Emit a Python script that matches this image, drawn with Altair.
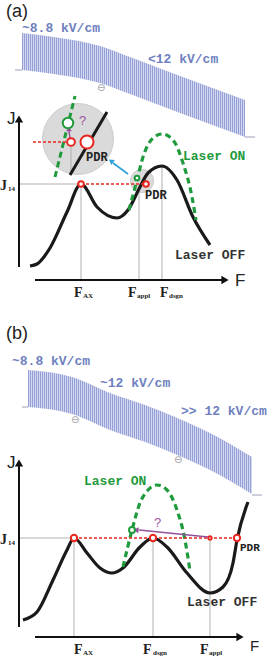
import altair as alt
import pandas as pd

W, H = 267, 657

# ---------------- data (pixel space) ----------------
# field bands
band_a_x   = [22, 60, 100, 130, 180, 245]
band_a_top = [33, 38, 46, 57, 76, 100]
band_a_bot = [70, 75, 83, 94, 113, 137]
band_b_x   = [28, 72, 110, 145, 175, 210, 252]
band_b_top = [370, 377, 393, 405, 417, 433, 457]
band_b_bot = [407, 414, 430, 442, 454, 470, 494]

# J-F curves
off_a_x = [30, 37, 50, 67, 81, 97, 117, 128, 140, 148, 162, 177, 193, 210]
off_a_y = [266, 264, 248, 212, 184, 207, 218, 210, 187, 173, 166, 180, 217, 245]
on_a_x = [129, 137, 143, 153, 162, 173, 183, 192, 196]
on_a_y = [210, 180, 157, 138, 134, 140, 163, 197, 220]
off_b_x = [23, 37, 53, 67, 74, 87, 100, 112, 123, 140, 153, 167, 187, 210, 223, 233, 237, 248]
off_b_y = [620, 612, 580, 550, 538, 553, 568, 573, 568, 547, 538, 547, 573, 593, 587, 563, 540, 502]
on_b_x = [123, 132, 140, 148, 157, 167, 177, 185, 190]
on_b_y = [567, 530, 503, 490, 485, 490, 510, 540, 571]

# inset (magnifier) content
inset_black_x = [70, 107]
inset_black_y = [175, 112]
inset_green_x = [55, 75]
inset_green_y = [177, 96]

# markers
red_x = [81, 146, 71, 87, 74, 153, 237, 210]
red_y = [184, 184, 142, 142, 538, 538, 538, 538]
red_s = [32, 32, 60, 170, 40, 40, 40, 12]
green_x = [137, 68, 132]
green_y = [178, 123, 530]
green_s = [22, 110, 35]

# segments
red_seg = [(81, 184, 146, 184), (33, 142, 66, 142), (74, 538, 237, 538)]
gray_seg = [(19, 184, 81, 184), (81, 184, 81, 280), (139, 186, 139, 280), (162, 166, 162, 280),
            (71, 147, 71, 175),
            (19, 538, 74, 538), (74, 538, 74, 637), (153, 538, 153, 637), (210, 540, 210, 637)]
axis_seg = [(19, 267, 19, 121), (35, 280, 222, 280), (19, 627, 19, 466), (35, 637, 237, 637)]
base_seg = [(15, 70, 22, 70), (245, 137, 255, 137), (22, 407, 28, 407), (252, 495, 262, 495)]
purple_seg = [(70, 138, 69, 131), (208, 537, 139, 530)]
blue_seg = [(128, 174, 113, 163)]

# arrow heads: x, y, angle, size
axis_heads = [(19, 119, 0, 70), (225, 280, 90, 70), (19, 463, 0, 70), (240, 637, 90, 70)]
purple_heads = [(69, 129, 0, 30), (136, 530, 275, 35)]
blue_heads = [(111, 161, 306, 35)]

# texts
band_txt = [("~8.8 kV/cm", 22, 28), ("<12 kV/cm", 148, 59),
            ("~8.8 kV/cm", 12, 361), ("~12 kV/cm", 100, 383), (">> 12 kV/cm", 181, 411)]
on_txt = [("Laser ON", 183, 156), ("Laser ON", 84, 481)]
off_txt = [("Laser OFF", 175, 255), ("Laser OFF", 187, 602)]
pdr_txt = [("PDR", 145, 195, 12), ("PDR", 86, 157, 12), ("PDR", 240, 548, 11)]
q_txt = [("?", 79, 121), ("?", 154, 523)]
panel_txt = [("(a)", 6, 12, 18), ("(b)", 6, 334, 18), ("J", 7, 119, 17), ("F", 235, 281, 17),
             ("J", 7, 463, 17), ("F", 250, 646, 15)]
big_txt = [("J", 0, 186), ("F", 74, 293), ("F", 128, 293), ("F", 160, 293),
           ("J", 0, 540), ("F", 74, 650), ("F", 143, 650), ("F", 200, 650)]
sub_txt = [("14", 8, 189), ("AX", 83, 296), ("appl", 137, 296), ("dsgn", 169, 296),
           ("14", 8, 543), ("AX", 83, 653), ("dsgn", 153, 653), ("appl", 209, 653)]
minus_txt = [(97, 88), (71, 420), (174, 460)]

# ---------------- helpers ----------------
xs = alt.Scale(domain=[0, W], nice=False, zero=False)
ys = alt.Scale(domain=[0, H], nice=False, zero=False, reverse=True)
X = lambda f="x": alt.X(f"{f}:Q", scale=xs, axis=None)
Y = lambda f="y": alt.Y(f"{f}:Q", scale=ys, axis=None)


def segs(lst):
    return pd.DataFrame(lst, columns=["x", "y", "x2", "y2"])


def rule_layer(lst, **kw):
    return alt.Chart(segs(lst)).mark_rule(**kw).encode(
        x=X(), y=Y(), x2="x2:Q", y2="y2:Q")


def stripes(span, dark, light, period=2.0, frac=0.5):
    """Hard-edged vertical stripe texture, one stripe every `period` pixels."""
    stops = []
    p = 0.0
    while p < span:
        a = p / span
        b = min((p + period * frac) / span, 1.0)
        c = min((p + period) / span, 1.0)
        stops += [alt.GradientStop(offset=a, color=dark), alt.GradientStop(offset=b, color=dark),
                  alt.GradientStop(offset=b, color=light), alt.GradientStop(offset=c, color=light)]
        p += period
    return alt.Gradient(gradient="linear", stops=stops, x1=0, x2=1, y1=0, y2=0)


def band(xv, top, bot):
    df = pd.DataFrame({"x": xv, "y": top, "y2": bot})
    span = xv[-1] - xv[0]
    return alt.Chart(df).mark_area(color=stripes(span, "#95a1d6", "#d3d7f0"), interpolate="monotone",
                                   opacity=1).encode(x=X(), y=Y(), y2="y2:Q")


def curve(xv, yv, **kw):
    df = pd.DataFrame({"x": xv, "y": yv})
    return alt.Chart(df).mark_line(interpolate="monotone", **kw).encode(x=X(), y=Y())


def heads(lst, color):
    df = pd.DataFrame(lst, columns=["x", "y", "a", "s"])
    return alt.Chart(df).mark_point(shape="triangle-up", filled=True, color=color, opacity=1).encode(
        x=X(), y=Y(), angle=alt.Angle("a:Q", scale=None), size=alt.Size("s:Q", scale=None))


def circles(xv, yv, sv, color, sw=2):
    df = pd.DataFrame({"x": xv, "y": yv, "s": sv})
    return alt.Chart(df).mark_circle(fill="white", stroke=color, strokeWidth=sw, opacity=1).encode(
        x=X(), y=Y(), size=alt.Size("s:Q", scale=None))


def texts(lst, size, color, font, weight="normal", cols=("t", "x", "y")):
    df = pd.DataFrame(lst, columns=list(cols))
    enc = dict(x=X(), y=Y(), text="t:N")
    kw = dict(align="left", baseline="middle", color=color, font=font, fontWeight=weight)
    if "s" in df.columns:
        enc["size"] = alt.Size("s:Q", scale=None)
    else:
        kw["fontSize"] = size
    return alt.Chart(df).mark_text(**kw).encode(**enc)


layers = []
# bands
layers += [band(band_a_x, band_a_top, band_a_bot), band(band_b_x, band_b_top, band_b_bot)]
layers += [rule_layer(base_seg, color="#9aa0b8", strokeWidth=1)]
# magnifier discs
disc = pd.DataFrame({"x": [78, 142], "y": [139, 181], "s": [5030, 540]})
layers += [alt.Chart(disc).mark_circle(fill="#dadada", stroke="#cccccc", strokeWidth=1, opacity=1).encode(
    x=X(), y=Y(), size=alt.Size("s:Q", scale=None))]
# gray guide lines
layers += [rule_layer(gray_seg, color="#a8a8a8", strokeWidth=0.9)]
# axes
layers += [rule_layer(axis_seg, color="#111111", strokeWidth=2), heads(axis_heads, "#111111")]
# curves
layers += [curve(off_a_x, off_a_y, color="#1a1a1a", strokeWidth=3.2),
           curve(off_b_x, off_b_y, color="#1a1a1a", strokeWidth=3.2),
           curve(inset_black_x, inset_black_y, color="#1a1a1a", strokeWidth=3),
           curve(on_a_x, on_a_y, color="#1f9a3c", strokeWidth=3.2, strokeDash=[6, 4]),
           curve(on_b_x, on_b_y, color="#1f9a3c", strokeWidth=3.2, strokeDash=[6, 4]),
           curve(inset_green_x, inset_green_y, color="#1f9a3c", strokeWidth=3, strokeDash=[6, 4])]
# red dashed level
layers += [rule_layer(red_seg, color="#e8261f", strokeWidth=1.6, strokeDash=[3, 2])]
# arrows
layers += [rule_layer(purple_seg, color="#94509a", strokeWidth=1.4), heads(purple_heads, "#94509a"),
           rule_layer(blue_seg, color="#2d9fd9", strokeWidth=1.6), heads(blue_heads, "#2d9fd9")]
# markers
layers += [circles(red_x, red_y, red_s, "#e8261f"), circles(green_x, green_y, green_s, "#1f9a3c")]
# texts
mono = "Liberation Mono"
layers += [texts(band_txt, 13, "#6f7fc0", mono, "bold"),
           texts(on_txt, 13, "#1f9a3c", mono, "bold"),
           texts(off_txt, 13, "#333333", mono, "bold"),
           texts(pdr_txt, 12, "#222222", mono, "bold", cols=("t", "x", "y", "s")),
           texts(q_txt, 13, "#a0559f", "Liberation Sans"),
           texts(panel_txt, 17, "#222222", "Liberation Sans", cols=("t", "x", "y", "s")),
           texts(big_txt, 14, "#222222", "Liberation Serif", "bold"),
           texts(sub_txt, 7, "#222222", "Liberation Serif", "bold"),
           texts([("⊖", a, b) for a, b in minus_txt], 10, "#a0a0a8", "DejaVu Sans")]

chart = alt.layer(*layers).properties(
    width=W, height=H, padding=0, autosize="none", background="white"
).configure_view(stroke=None)

chart.save("out.html", embed_options={"renderer": "svg", "actions": False})
